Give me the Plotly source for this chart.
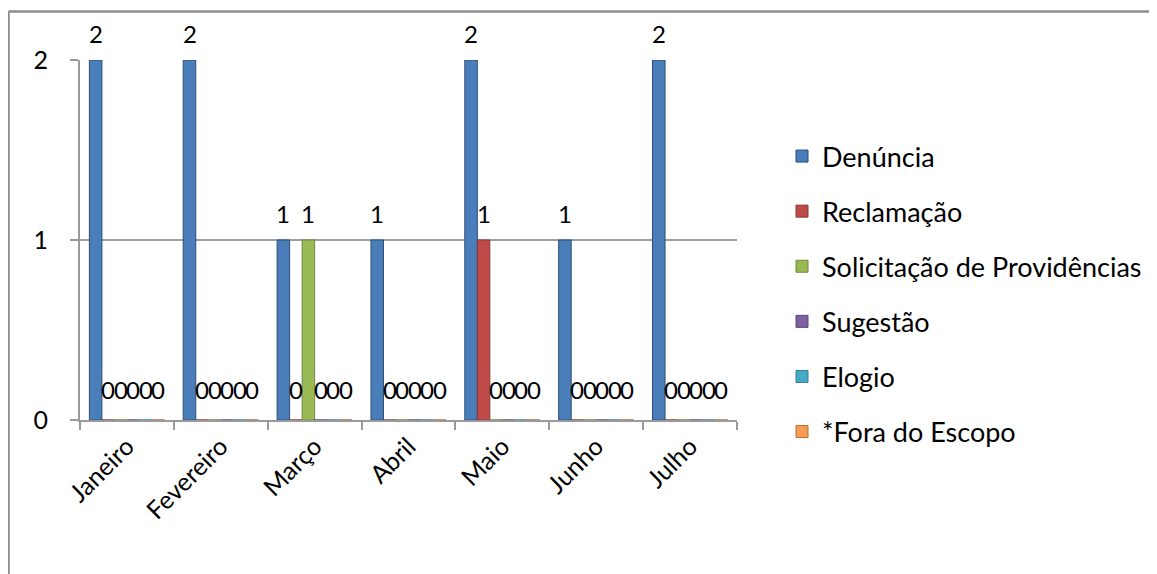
import plotly.graph_objects as go

months = ["Janeiro", "Fevereiro", "Março", "Abril", "Maio", "Junho", "Julho"]
denuncia = [2, 2, 1, 1, 2, 1, 2]
reclamacao = [0, 0, 0, 0, 1, 0, 0]
solicitacao = [0, 0, 1, 0, 0, 0, 0]
sugestao = [0, 0, 0, 0, 0, 0, 0]
elogio = [0, 0, 0, 0, 0, 0, 0]
fora_escopo = [0, 0, 0, 0, 0, 0, 0]

series_names = ["Denúncia", "Reclamação", "Solicitação de Providências",
                "Sugestão", "Elogio", "*Fora do Escopo"]
series_values = [denuncia, reclamacao, solicitacao, sugestao, elogio, fora_escopo]
colors = ["#4A7EBB", "#BE4B48", "#98B954", "#7D60A0", "#46AAC5", "#F59D56"]
edge = ["#2C4D75", "#8C3836", "#71893F", "#5C4776", "#357E92", "#B66D31"]

FONT = "Lato"
# figure is drawn inside an 8px page margin
FW, FH = 1149, 566
L, R = 72, 729          # plot area x in figure pixels
T, B = 52, 412          # plot area y in figure pixels
BARGAP = 0.2
NSER = len(series_names)

fig = go.Figure()
for i, (name, vals) in enumerate(zip(series_names, series_values)):
    fig.add_trace(go.Bar(
        x=months, y=vals, name=name,
        marker=dict(color=colors[i], line=dict(color=edge[i], width=1)),
        legendgroup=name,
    ))

# value labels above each bar (Excel-style, raised above the bar top)
bar_px = (R - L) / len(months) * (1 - BARGAP) / NSER
annotations = []
for j, vals in enumerate(series_values):
    for m, v in zip(months, vals):
        annotations.append(dict(
            x=m, y=v, xref="x", yref="y", text=str(v), showarrow=False,
            xshift=(j - (NSER - 1) / 2) * bar_px,
            yshift=27 if v else 31, yanchor="middle",
            font=dict(family=FONT, size=24, color="#000000"),
        ))

def pxx(x):
    return (x - L) / (R - L)

def pxy(y):
    return (B - y) / (B - T)

fig.update_layout(
    width=FW, height=FH,
    margin=dict(l=L, r=FW - R, t=T, b=FH - B, autoexpand=False),
    paper_bgcolor="white", plot_bgcolor="white",
    barmode="group", bargap=BARGAP, bargroupgap=0,
    font=dict(family=FONT, size=25, color="#000000"),
    showlegend=True,
    legend=dict(
        xref="container", yref="container",
        x=774 / FW, y=1 - 124 / FH, xanchor="left", yanchor="top",
        font=dict(family=FONT, size=27, color="#000000"),
        tracegroupgap=17, itemwidth=30, maxheight=600,
        bgcolor="rgba(0,0,0,0)",
    ),
    xaxis=dict(
        type="category", tickson="boundaries", ticks="outside", ticklen=8,
        tickcolor="#9A9A9A", tickwidth=2,
        showline=True, linecolor="#9A9A9A", linewidth=2,
        tickangle=-45, tickfont=dict(family=FONT, size=25),
        showgrid=False,
    ),
    yaxis=dict(
        range=[0, 2], tickvals=[0, 1, 2], ticks="outside", ticklen=8,
        tickcolor="#9A9A9A", tickwidth=2, ticklabelstandoff=17,
        showline=True, linecolor="#9A9A9A", linewidth=2,
        showgrid=True, gridcolor="#A0A0A0", gridwidth=2,
        tickfont=dict(family=FONT, size=25), zeroline=False,
    ),
    annotations=annotations,
    shapes=[
        dict(type="line", xref="paper", yref="paper",
             x0=pxx(0.5), x1=pxx(0.5), y0=pxy(3.5), y1=pxy(FH + 10),
             line=dict(color="#8C8C8C", width=2.5)),
        dict(type="line", xref="paper", yref="paper",
             x0=pxx(0.5), x1=pxx(FW + 10), y0=pxy(3.5), y1=pxy(3.5),
             line=dict(color="#8C8C8C", width=2.5)),
    ],
)

fig.write_html("out.html")
